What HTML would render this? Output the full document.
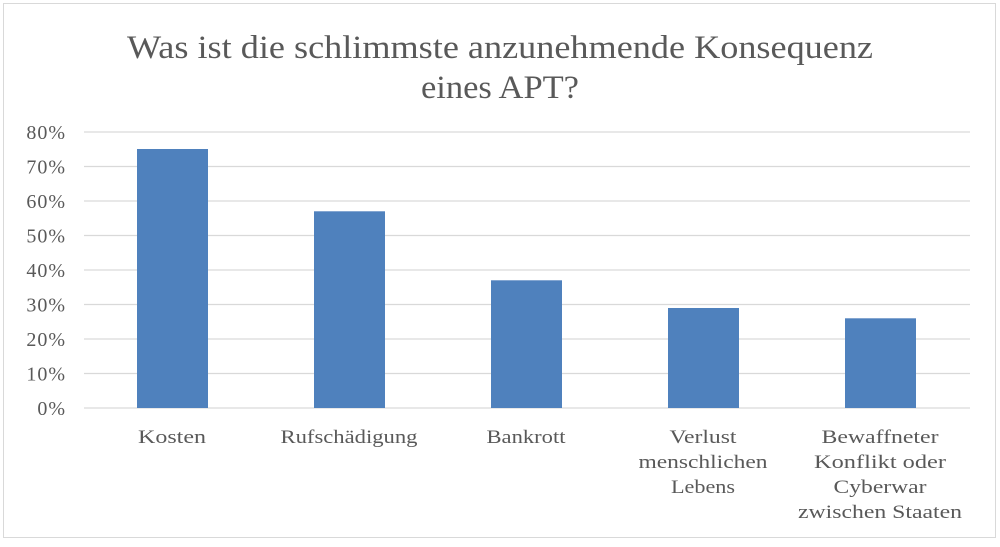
<!DOCTYPE html>
<html><head><meta charset="utf-8"><style>
body{margin:0;background:#fff;}
svg text{font-family:"Liberation Serif","DejaVu Serif",serif;fill:#595959;}
</style></head><body>
<svg width="1000" height="542" xmlns="http://www.w3.org/2000/svg">
<rect x="3.5" y="3.5" width="992" height="534" fill="#fff" stroke="#d9d9d9"/>
<text x="500" y="58" font-size="33" text-anchor="middle" textLength="746" lengthAdjust="spacingAndGlyphs">Was ist die schlimmste anzunehmende Konsequenz</text>
<text x="500" y="98" font-size="33" text-anchor="middle" textLength="158" lengthAdjust="spacingAndGlyphs">eines APT?</text>
<g stroke="#d9d9d9" stroke-width="1.3">
<line x1="84" x2="970" y1="132" y2="132"/><line x1="84" x2="970" y1="166.5" y2="166.5"/>
<line x1="84" x2="970" y1="201" y2="201"/><line x1="84" x2="970" y1="235.5" y2="235.5"/>
<line x1="84" x2="970" y1="270" y2="270"/><line x1="84" x2="970" y1="304.5" y2="304.5"/>
<line x1="84" x2="970" y1="339" y2="339"/><line x1="84" x2="970" y1="373.5" y2="373.5"/>
<line x1="84" x2="970" y1="408" y2="408"/>
</g>
<g font-size="20" text-anchor="end" letter-spacing="1">
<text x="66" y="139">80%</text><text x="66" y="173.5">70%</text><text x="66" y="208">60%</text>
<text x="66" y="242.5">50%</text><text x="66" y="277">40%</text><text x="66" y="311.5">30%</text>
<text x="66" y="346">20%</text><text x="66" y="380.5">10%</text><text x="66" y="415">0%</text>
</g>
<g fill="#4f81bd">
<rect x="137" y="149" width="71" height="259"/>
<rect x="314" y="211.3" width="71" height="196.7"/>
<rect x="491" y="280.3" width="71" height="127.7"/>
<rect x="668" y="308" width="71" height="100"/>
<rect x="845" y="318.3" width="71" height="89.7"/>
</g>
<g font-size="19" text-anchor="middle">
<text x="172" y="443" textLength="68" lengthAdjust="spacingAndGlyphs">Kosten</text>
<text x="349" y="443" textLength="137" lengthAdjust="spacingAndGlyphs">Rufschädigung</text>
<text x="526" y="443" textLength="79" lengthAdjust="spacingAndGlyphs">Bankrott</text>
<text x="703" y="443" textLength="67" lengthAdjust="spacingAndGlyphs">Verlust</text><text x="703" y="468" textLength="129" lengthAdjust="spacingAndGlyphs">menschlichen</text><text x="703" y="493" textLength="64" lengthAdjust="spacingAndGlyphs">Lebens</text>
<text x="880" y="443" textLength="117" lengthAdjust="spacingAndGlyphs">Bewaffneter</text><text x="880" y="468" textLength="132" lengthAdjust="spacingAndGlyphs">Konflikt oder</text><text x="880" y="493" textLength="93" lengthAdjust="spacingAndGlyphs">Cyberwar</text><text x="880" y="518" textLength="164" lengthAdjust="spacingAndGlyphs">zwischen Staaten</text>
</g>
</svg>
</body></html>
